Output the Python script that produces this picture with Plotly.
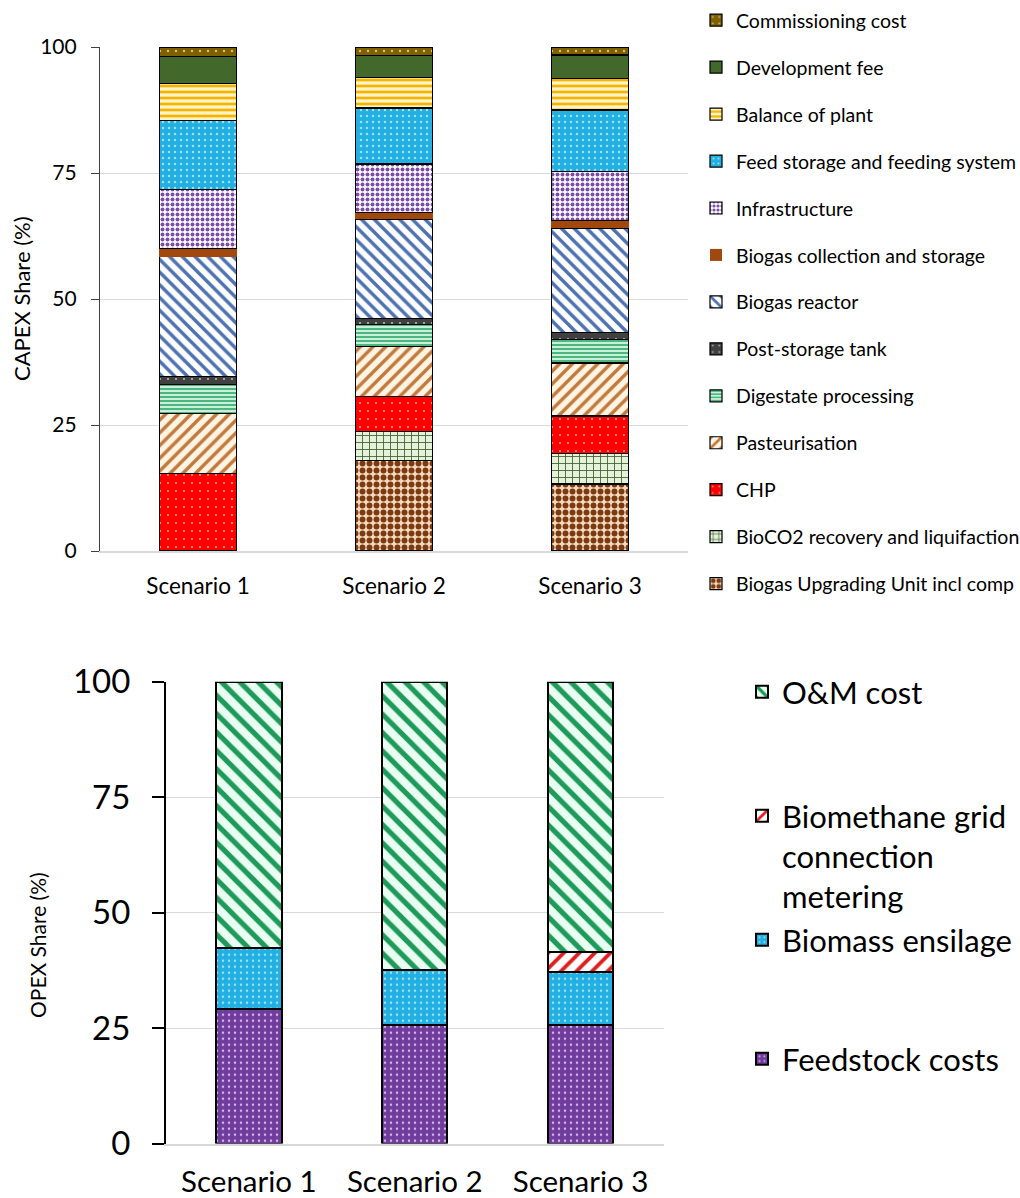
import plotly.graph_objects as go

FONT = "Lato"

scenarios = ["Scenario 1", "Scenario 2", "Scenario 3"]

# CAPEX shares (%) per cost item, listed from the bottom of the stack upward
capex_items = [
    "Biogas Upgrading Unit incl comp",
    "BioCO2 recovery and liquifaction",
    "CHP",
    "Pasteurisation",
    "Digestate processing",
    "Post-storage tank",
    "Biogas reactor",
    "Biogas collection and storage",
    "Infrastructure",
    "Feed storage and feeding system",
    "Balance of plant",
    "Development fee",
    "Commissioning cost",
]
upgrading_unit = [None, 18.0, 13.3]
bioco2_recovery = [None, 5.7, 6.0]
chp = [15.4, 7.0, 7.5]
pasteurisation = [11.9, 9.8, 10.5]
digestate_processing = [5.7, 4.4, 4.6]
post_storage_tank = [1.6, 1.3, 1.5]
biogas_reactor = [23.8, 19.6, 20.6]
biogas_collection = [1.7, 1.3, 1.5]
infrastructure = [11.6, 9.7, 9.8]
feed_storage = [13.7, 11.1, 12.2]
balance_of_plant = [7.3, 6.0, 6.3]
development_fee = [5.4, 4.4, 4.6]
commissioning = [1.9, 1.6, 1.6]
capex_values = [
    upgrading_unit, bioco2_recovery, chp, pasteurisation, digestate_processing,
    post_storage_tank, biogas_reactor, biogas_collection, infrastructure,
    feed_storage, balance_of_plant, development_fee, commissioning,
]

# OPEX shares (%), bottom of the stack upward
opex_items = [
    "Feedstock costs",
    "Biomass ensilage",
    "Biomethane grid<br>connection<br>metering",
    "O&M cost",
]
feedstock_costs = [29.2, 25.6, 25.6]
biomass_ensilage = [13.2, 12.0, 11.5]
grid_connection = [None, None, 4.4]
om_cost = [57.6, 62.4, 58.5]
opex_values = [feedstock_costs, biomass_ensilage, grid_connection, om_cost]

y_ticks = [0, 25, 50, 75, 100]

# fill styles: (pattern shape, foreground, background, size, solidity)
capex_styles = [
    (".", "#7A3A12", "#F6D9BC", 7, 0.55),
    ("+", "#3A5A26", "#E4F1DB", 7, 0.22),
    (".", "#FF9A9A", "#FF0000", 8, 0.06),
    ("/", "#C27A3C", "#FFF4E4", 9, 0.38),
    ("-", "#3FAE76", "#C9F1DA", 4, 0.45),
    (".", "#B8B8B8", "#404040", 8, 0.06),
    ("\\", "#4D71B1", "#FFFFFF", 9, 0.38),
    ("", "#A0480E", "#A0480E", 8, 0.3),
    (".", "#7A4EA6", "#FFFFFF", 5, 0.5),
    (".", "#9DE2F8", "#22AFE2", 6, 0.14),
    ("-", "#F4B400", "#FFF4C8", 6, 0.45),
    ("", "#43682B", "#43682B", 8, 0.3),
    (".", "#D8C27A", "#7F6000", 8, 0.07),
]
opex_styles = [
    (".", "#D9B6EE", "#6F3C9C", 6, 0.14),
    (".", "#9DE2F8", "#22AFE2", 6, 0.14),
    ("/", "#E01E1E", "#FFFFFF", 11, 0.35),
    ("\\", "#1E9A5A", "#E9FFF2", 13, 0.4),
]

fig = go.Figure()

n_capex = len(capex_items)
for i, (name, vals, (shape, fg, bg, size, sol)) in enumerate(
        zip(capex_items, capex_values, capex_styles)):
    solid = shape == ""
    fig.add_trace(go.Bar(
        x=scenarios, y=vals, name=name, xaxis="x", yaxis="y",
        legend="legend", legendgroup=name, legendrank=n_capex - i,
        marker=dict(
            color=bg,
            line=dict(color="#000000",
                      width=0 if name == "Biogas collection and storage" else 1.2),
            pattern=dict(shape=shape, fgcolor=fg, bgcolor=bg, size=size,
                         solidity=sol, fillmode="replace") if not solid else None,
        ),
        hovertemplate="%{x}<br>" + name + ": %{y:.1f}%<extra></extra>",
    ))

# one legend box per OPEX item, top entry first
opex_legends = ["legend5", "legend4", "legend3", "legend2"]
for name, vals, (shape, fg, bg, size, sol), lg in zip(opex_items, opex_values, opex_styles, opex_legends):
    fig.add_trace(go.Bar(
        x=scenarios, y=vals, name=name, xaxis="x2", yaxis="y2",
        legend=lg,
        marker=dict(
            color=bg,
            line=dict(color="#000000", width=2),
            pattern=dict(shape=shape, fgcolor=fg, bgcolor=bg, size=size,
                         solidity=sol, fillmode="replace"),
        ),
        hovertemplate="%{x}<br>" + name.replace("<br>", " ") + ": %{y:.1f}%<extra></extra>",
    ))

W, H = 1020, 1198


def px_x(v):
    return v / W


def px_y(v):
    return 1 - v / H


grid = "#D9D9D9"

fig.update_layout(
    width=W, height=H,
    margin=dict(l=0, r=0, t=0, b=0, autoexpand=False),
    paper_bgcolor="white", plot_bgcolor="white",
    barmode="stack",
    font=dict(family=FONT, color="#000000"),
    xaxis=dict(
        domain=[px_x(100), px_x(688)], anchor="y", automargin=False,
        showline=True, linecolor=grid, linewidth=1.5,
        ticks="", tickfont=dict(size=22.5), ticklabelstandoff=14,
        showgrid=False, fixedrange=True,
    ),
    yaxis=dict(
        domain=[px_y(551), px_y(47)], anchor="x", automargin=False,
        range=[0, 100], tickvals=y_ticks,
        showgrid=True, gridcolor=grid, gridwidth=1.2, zeroline=False,
        showline=True, linecolor="#404040", linewidth=1.2,
        ticks="outside", ticklen=8, tickcolor="#404040", tickwidth=1.2,
        tickfont=dict(size=21), ticklabelstandoff=10, fixedrange=True,
    ),
    xaxis2=dict(
        domain=[px_x(166), px_x(663.5)], anchor="y2", automargin=False,
        showline=True, linecolor=grid, linewidth=1.5,
        ticks="", tickfont=dict(size=29.5), ticklabelstandoff=11,
        showgrid=False, fixedrange=True,
    ),
    yaxis2=dict(
        domain=[px_y(1143.5), px_y(681.7)], anchor="x2", automargin=False,
        range=[0, 100], tickvals=y_ticks,
        showgrid=True, gridcolor=grid, gridwidth=1.2, zeroline=False,
        showline=True, linecolor="#000000", linewidth=2,
        ticks="outside", ticklen=12, tickcolor="#000000", tickwidth=2,
        tickfont=dict(size=33), ticklabelstandoff=15, fixedrange=True,
    ),
    bargap=0.606,
    legend=dict(
        x=px_x(696), xanchor="left", y=px_y(1), yanchor="top",
        traceorder="grouped", tracegroupgap=18.6, valign="top",
        font=dict(size=19.5), bgcolor="rgba(0,0,0,0)",
    ),
    legend2=dict(x=px_x(742), xanchor="left", y=px_y(692), yanchor="middle",
                 font=dict(size=31), bgcolor="rgba(0,0,0,0)"),
    legend3=dict(x=px_x(742), xanchor="left", y=px_y(856), yanchor="middle",
                 valign="top", font=dict(size=31), bgcolor="rgba(0,0,0,0)"),
    legend4=dict(x=px_x(742), xanchor="left", y=px_y(940), yanchor="middle",
                 font=dict(size=31), bgcolor="rgba(0,0,0,0)"),
    legend5=dict(x=px_x(742), xanchor="left", y=px_y(1059), yanchor="middle",
                 font=dict(size=31), bgcolor="rgba(0,0,0,0)"),
    annotations=[
        dict(text="CAPEX Share (%)", textangle=-90, showarrow=False,
             xref="paper", yref="paper", x=px_x(21), y=px_y(299),
             xanchor="center", yanchor="middle", font=dict(size=22)),
        dict(text="OPEX Share (%)", textangle=-90, showarrow=False,
             xref="paper", yref="paper", x=px_x(37), y=px_y(945),
             xanchor="center", yanchor="middle", font=dict(size=21)),
    ],
)

fig.write_html("out.html")
